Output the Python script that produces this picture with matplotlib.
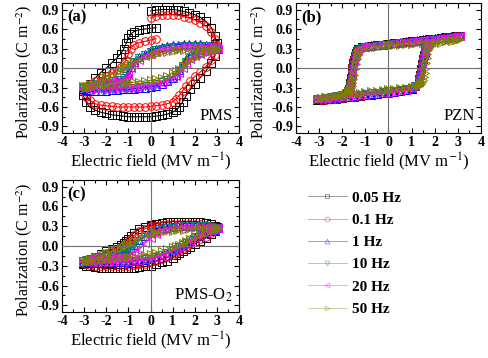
import matplotlib
matplotlib.use('Agg')
import matplotlib.pyplot as plt
from matplotlib.lines import Line2D
from matplotlib.ticker import MultipleLocator, FormatStrFormatter

plt.rcParams['font.family'] = 'serif'
plt.rcParams['font.serif'] = ['Liberation Serif', 'DejaVu Serif']
plt.rcParams['mathtext.fontset'] = 'stix'
plt.rcParams['axes.unicode_minus'] = False

freqs = ['0.05 Hz', '0.1 Hz', '1 Hz', '10 Hz', '20 Hz', '50 Hz']
colors = ['#000000', '#ff0000', '#0000ff', '#008080', '#ff00ff', '#808000']
markers = ['s', 'o', '^', 'v', '<', '>']

# field values of the three sweep segments, PMS and PMS-O2 (MV/m)
E_up = [0, 0.25, 0.5, 0.75, 1.0, 1.25, 1.5, 1.75, 2.0, 2.25, 2.5, 2.75, 2.9, 3.0, 3.05]
E_dn = [3.05, 2.9, 2.75, 2.5, 2.25, 2.0, 1.8, 1.6, 1.45, 1.3, 1.15, 1.0, 0.75, 0.5, 0.25, 0,
        -0.25, -0.5, -0.75, -1.0, -1.25, -1.5, -1.75, -2.0, -2.25, -2.5, -2.75, -2.9, -3.05]
E_rt = [-3.05, -2.9, -2.75, -2.5, -2.25, -2.0, -1.75, -1.5, -1.35, -1.2, -1.1, -1.0, -0.9,
        -0.75, -0.5, -0.25, 0, 0.25]

# PMS polarization (C/m2), one row per frequency
pms_up = [
    [0.88, 0.89, 0.9, 0.9, 0.9, 0.89, 0.87, 0.85, 0.82, 0.78, 0.72, 0.62, 0.5, 0.38, 0.3],
    [0.77, 0.8, 0.81, 0.82, 0.82, 0.81, 0.79, 0.77, 0.74, 0.7, 0.64, 0.55, 0.45, 0.36, 0.3],
    [0.27, 0.3, 0.32, 0.34, 0.35, 0.36, 0.37, 0.37, 0.37, 0.37, 0.36, 0.35, 0.34, 0.33, 0.31],
    [0.24, 0.27, 0.29, 0.31, 0.32, 0.33, 0.34, 0.34, 0.34, 0.34, 0.34, 0.33, 0.32, 0.31, 0.3],
    [0.22, 0.25, 0.27, 0.29, 0.3, 0.31, 0.32, 0.32, 0.33, 0.33, 0.33, 0.32, 0.32, 0.31, 0.3],
    [0.2, 0.22, 0.24, 0.25, 0.26, 0.27, 0.28, 0.28, 0.29, 0.29, 0.3, 0.3, 0.3, 0.3, 0.3],
]
pms_dn = [
    [0.3, 0.18, 0.08, -0.05, -0.15, -0.25, -0.33, -0.43, -0.52, -0.6, -0.65, -0.68, -0.71, -0.73, -0.74,
     -0.75, -0.75, -0.75, -0.75, -0.75, -0.74, -0.73, -0.72, -0.7, -0.68, -0.65, -0.6, -0.53, -0.42],
    [0.3, 0.2, 0.12, 0.02, -0.06, -0.13, -0.2, -0.28, -0.35, -0.42, -0.48, -0.52, -0.55, -0.57, -0.58,
     -0.59, -0.6, -0.6, -0.6, -0.6, -0.6, -0.6, -0.59, -0.58, -0.57, -0.55, -0.5, -0.45, -0.35],
    [0.31, 0.3, 0.29, 0.27, 0.25, 0.23, 0.2, 0.14, 0.06, -0.03, -0.1, -0.15, -0.2, -0.24, -0.27,
     -0.29, -0.3, -0.31, -0.32, -0.33, -0.33, -0.34, -0.34, -0.35, -0.35, -0.35, -0.35, -0.34, -0.33],
    [0.3, 0.28, 0.27, 0.25, 0.22, 0.19, 0.16, 0.1, 0.03, -0.04, -0.1, -0.14, -0.19, -0.22, -0.25,
     -0.27, -0.28, -0.29, -0.3, -0.31, -0.31, -0.32, -0.32, -0.33, -0.33, -0.33, -0.33, -0.32, -0.31],
    [0.3, 0.28, 0.26, 0.24, 0.21, 0.18, 0.14, 0.08, 0.0, -0.07, -0.12, -0.16, -0.2, -0.23, -0.25,
     -0.27, -0.28, -0.29, -0.3, -0.3, -0.31, -0.31, -0.32, -0.32, -0.32, -0.32, -0.32, -0.31, -0.3],
    [0.3, 0.28, 0.26, 0.23, 0.2, 0.16, 0.12, 0.07, 0.03, -0.01, -0.04, -0.07, -0.12, -0.15, -0.17,
     -0.19, -0.2, -0.21, -0.22, -0.22, -0.23, -0.24, -0.25, -0.26, -0.27, -0.28, -0.29, -0.29, -0.28],
]
pms_rt = [
    [-0.35, -0.3, -0.24, -0.15, -0.07, 0.0, 0.08, 0.16, 0.22, 0.3, 0.38, 0.46, 0.52, 0.56, 0.59, 0.6, 0.61, 0.62],
    [-0.3, -0.27, -0.24, -0.2, -0.16, -0.12, -0.08, -0.03, 0.01, 0.07, 0.13, 0.22, 0.3, 0.36, 0.39, 0.41, 0.43, 0.45],
    [-0.33, -0.31, -0.29, -0.27, -0.25, -0.23, -0.21, -0.2, -0.19, -0.18, -0.15, -0.08, 0.02, 0.1, 0.17, 0.22, 0.26, 0.3],
    [-0.31, -0.29, -0.27, -0.25, -0.23, -0.21, -0.2, -0.19, -0.18, -0.16, -0.12, -0.05, 0.03, 0.09, 0.15, 0.2, 0.24, 0.27],
    [-0.3, -0.28, -0.26, -0.24, -0.22, -0.21, -0.2, -0.2, -0.2, -0.2, -0.17, -0.1, 0.0, 0.07, 0.13, 0.18, 0.22, 0.25],
    [-0.28, -0.27, -0.25, -0.22, -0.18, -0.14, -0.1, -0.06, -0.03, 0.0, 0.02, 0.04, 0.06, 0.09, 0.13, 0.17, 0.2, 0.22],
]

# PMS-O2 polarization (C/m2)
pmso2_up = [
    [0.32, 0.34, 0.35, 0.36, 0.37, 0.37, 0.37, 0.37, 0.37, 0.36, 0.35, 0.33, 0.31, 0.29, 0.27],
    [0.3, 0.31, 0.32, 0.33, 0.34, 0.34, 0.34, 0.34, 0.34, 0.33, 0.32, 0.31, 0.29, 0.28, 0.27],
    [0.22, 0.25, 0.27, 0.28, 0.29, 0.3, 0.31, 0.31, 0.31, 0.31, 0.3, 0.3, 0.29, 0.28, 0.27],
    [0.2, 0.23, 0.25, 0.27, 0.28, 0.29, 0.3, 0.3, 0.3, 0.3, 0.3, 0.29, 0.28, 0.28, 0.27],
    [0.18, 0.21, 0.24, 0.26, 0.27, 0.28, 0.29, 0.29, 0.29, 0.29, 0.29, 0.28, 0.28, 0.27, 0.27],
    [0.19, 0.2, 0.21, 0.22, 0.23, 0.24, 0.25, 0.26, 0.27, 0.27, 0.28, 0.28, 0.28, 0.28, 0.27],
]
pmso2_dn = [
    [0.27, 0.22, 0.18, 0.12, 0.08, 0.03, -0.01, -0.05, -0.08, -0.11, -0.14, -0.18, -0.22, -0.25, -0.28,
     -0.3, -0.31, -0.32, -0.33, -0.33, -0.34, -0.34, -0.34, -0.34, -0.33, -0.32, -0.31, -0.3, -0.27],
    [0.27, 0.23, 0.19, 0.14, 0.1, 0.06, 0.03, -0.01, -0.04, -0.07, -0.1, -0.13, -0.17, -0.2, -0.23,
     -0.25, -0.27, -0.28, -0.29, -0.3, -0.3, -0.31, -0.31, -0.31, -0.31, -0.3, -0.29, -0.28, -0.26],
    [0.27, 0.25, 0.23, 0.2, 0.17, 0.14, 0.1, 0.06, 0.03, 0.0, -0.03, -0.06, -0.1, -0.14, -0.17,
     -0.19, -0.21, -0.22, -0.23, -0.24, -0.25, -0.25, -0.26, -0.26, -0.26, -0.26, -0.26, -0.25, -0.24],
    [0.27, 0.25, 0.22, 0.19, 0.16, 0.13, 0.09, 0.05, 0.02, -0.01, -0.04, -0.07, -0.11, -0.14, -0.17,
     -0.19, -0.2, -0.21, -0.22, -0.23, -0.24, -0.24, -0.25, -0.25, -0.25, -0.25, -0.25, -0.24, -0.23],
    [0.27, 0.24, 0.22, 0.19, 0.15, 0.12, 0.08, 0.04, 0.01, -0.02, -0.05, -0.08, -0.12, -0.15, -0.18,
     -0.2, -0.21, -0.22, -0.23, -0.24, -0.24, -0.25, -0.25, -0.25, -0.25, -0.25, -0.24, -0.24, -0.23],
    [0.27, 0.25, 0.22, 0.19, 0.16, 0.13, 0.1, 0.07, 0.04, 0.02, 0.0, -0.02, -0.05, -0.08, -0.1,
     -0.12, -0.13, -0.14, -0.15, -0.16, -0.17, -0.18, -0.19, -0.2, -0.21, -0.22, -0.23, -0.24, -0.24],
]
pmso2_rt = [
    [-0.26, -0.23, -0.2, -0.16, -0.12, -0.08, -0.05, -0.01, 0.02, 0.05, 0.08, 0.11, 0.15, 0.2, 0.26, 0.29, 0.31, 0.33],
    [-0.26, -0.23, -0.21, -0.17, -0.14, -0.1, -0.07, -0.04, -0.02, 0.01, 0.04, 0.07, 0.11, 0.16, 0.22, 0.26, 0.29, 0.31],
    [-0.24, -0.22, -0.2, -0.18, -0.16, -0.15, -0.14, -0.13, -0.12, -0.11, -0.09, -0.06, -0.03, 0.02, 0.09, 0.15, 0.2, 0.23],
    [-0.23, -0.21, -0.19, -0.17, -0.16, -0.15, -0.14, -0.13, -0.12, -0.12, -0.1, -0.07, -0.04, 0.01, 0.08, 0.14, 0.19, 0.22],
    [-0.23, -0.21, -0.19, -0.17, -0.16, -0.16, -0.16, -0.16, -0.16, -0.16, -0.16, -0.15, -0.13, -0.1, -0.05, 0.04, 0.12, 0.18],
    [-0.24, -0.22, -0.2, -0.17, -0.14, -0.11, -0.08, -0.05, -0.03, -0.01, 0.01, 0.03, 0.05, 0.08, 0.12, 0.16, 0.19, 0.2],
]

# PZN: field of the falling and rising branches (MV/m)
Eb_hi = [3.1, 2.9, 2.7, 2.5, 2.25, 2.0, 1.75, 1.5, 1.25, 1.0, 0.75, 0.5, 0.25, 0.0, -0.25, -0.5,
         -0.75, -1.0, -1.15, -1.3, -1.34, -1.38, -1.42, -1.46, -1.5, -1.53, -1.56, -1.59, -1.62,
         -1.65, -1.68, -1.71, -1.75, -1.85, -2.0, -2.25, -2.5, -2.75, -2.9, -3.1]
Eb_lo = [-3.1, -2.9, -2.7, -2.5, -2.25, -2.0, -1.75, -1.5, -1.25, -1.0, -0.75, -0.5, -0.25, 0.0,
         0.25, 0.5, 0.75, 1.0, 1.15, 1.3, 1.34, 1.38, 1.42, 1.46, 1.5, 1.53, 1.56, 1.59, 1.62,
         1.65, 1.68, 1.71, 1.75, 1.85, 2.0, 2.25, 2.5, 2.75, 2.9, 3.1]
pzn_hi = [
    [0.49, 0.49, 0.48, 0.47, 0.46, 0.45, 0.44, 0.43, 0.42, 0.41, 0.40, 0.39, 0.38, 0.37, 0.36, 0.35,
     0.34, 0.33, 0.32, 0.3, 0.28, 0.26, 0.23, 0.19, 0.13, 0.07, 0.0, -0.08, -0.16, -0.23,
     -0.29, -0.33, -0.36, -0.4, -0.42, -0.44, -0.46, -0.47, -0.48, -0.49],
    [0.50, 0.49, 0.48, 0.47, 0.46, 0.45, 0.44, 0.43, 0.42, 0.41, 0.40, 0.39, 0.38, 0.37, 0.36, 0.35,
     0.34, 0.33, 0.32, 0.3, 0.29, 0.27, 0.25, 0.21, 0.16, 0.1, 0.03, -0.05, -0.13, -0.21,
     -0.28, -0.33, -0.36, -0.4, -0.42, -0.44, -0.46, -0.47, -0.48, -0.48],
    [0.50, 0.50, 0.49, 0.48, 0.47, 0.46, 0.45, 0.44, 0.43, 0.42, 0.41, 0.40, 0.39, 0.38, 0.37, 0.36,
     0.35, 0.34, 0.32, 0.3, 0.29, 0.27, 0.24, 0.2, 0.15, 0.09, 0.02, -0.06, -0.14, -0.22,
     -0.28, -0.33, -0.36, -0.4, -0.42, -0.44, -0.46, -0.47, -0.48, -0.48],
    [0.47, 0.46, 0.46, 0.45, 0.44, 0.43, 0.42, 0.41, 0.40, 0.39, 0.39, 0.38, 0.37, 0.36, 0.35, 0.34,
     0.33, 0.32, 0.31, 0.28, 0.26, 0.23, 0.18, 0.12, 0.05, -0.02, -0.1, -0.17, -0.23, -0.28,
     -0.31, -0.34, -0.36, -0.39, -0.41, -0.43, -0.45, -0.46, -0.47, -0.47],
    [0.49, 0.48, 0.47, 0.46, 0.45, 0.44, 0.44, 0.43, 0.42, 0.41, 0.40, 0.39, 0.38, 0.37, 0.36, 0.35,
     0.34, 0.33, 0.32, 0.3, 0.28, 0.26, 0.22, 0.17, 0.11, 0.04, -0.04, -0.12, -0.2, -0.26,
     -0.3, -0.34, -0.36, -0.4, -0.42, -0.44, -0.45, -0.46, -0.47, -0.48],
    [0.44, 0.43, 0.43, 0.42, 0.41, 0.40, 0.39, 0.39, 0.38, 0.37, 0.37, 0.36, 0.36, 0.35, 0.34, 0.33,
     0.32, 0.3, 0.28, 0.24, 0.2, 0.14, 0.06, -0.02, -0.1, -0.17, -0.23, -0.28, -0.31, -0.33,
     -0.35, -0.36, -0.37, -0.39, -0.41, -0.43, -0.44, -0.45, -0.46, -0.47],
]
pzn_lo = [
    [-0.49, -0.49, -0.48, -0.48, -0.47, -0.46, -0.45, -0.44, -0.43, -0.42, -0.41, -0.40, -0.39, -0.38,
     -0.37, -0.36, -0.34, -0.32, -0.28, -0.22, -0.17, -0.1, -0.02, 0.06, 0.14, 0.2, 0.25, 0.3,
     0.33, 0.35, 0.37, 0.38, 0.40, 0.42, 0.44, 0.46, 0.47, 0.48, 0.49, 0.49],
    [-0.48, -0.49, -0.49, -0.48, -0.47, -0.46, -0.45, -0.44, -0.43, -0.42, -0.41, -0.40, -0.39, -0.38,
     -0.37, -0.36, -0.34, -0.31, -0.27, -0.2, -0.15, -0.08, 0.0, 0.08, 0.16, 0.22, 0.27, 0.31,
     0.34, 0.36, 0.38, 0.39, 0.41, 0.43, 0.45, 0.46, 0.47, 0.48, 0.49, 0.50],
    [-0.48, -0.48, -0.48, -0.47, -0.46, -0.45, -0.44, -0.43, -0.42, -0.41, -0.40, -0.40, -0.39, -0.38,
     -0.37, -0.36, -0.34, -0.31, -0.27, -0.21, -0.16, -0.09, -0.01, 0.07, 0.15, 0.21, 0.26, 0.3,
     0.33, 0.36, 0.38, 0.39, 0.41, 0.43, 0.45, 0.46, 0.47, 0.48, 0.49, 0.50],
    [-0.47, -0.47, -0.47, -0.46, -0.45, -0.44, -0.43, -0.42, -0.41, -0.40, -0.39, -0.38, -0.37, -0.36,
     -0.35, -0.34, -0.32, -0.3, -0.27, -0.23, -0.19, -0.14, -0.07, 0.01, 0.09, 0.16, 0.22, 0.27,
     0.31, 0.34, 0.36, 0.37, 0.39, 0.41, 0.43, 0.44, 0.45, 0.46, 0.47, 0.47],
    [-0.48, -0.48, -0.48, -0.47, -0.46, -0.45, -0.44, -0.43, -0.42, -0.41, -0.40, -0.39, -0.39, -0.38,
     -0.37, -0.36, -0.34, -0.31, -0.27, -0.21, -0.16, -0.09, -0.01, 0.07, 0.15, 0.21, 0.26, 0.3,
     0.33, 0.35, 0.37, 0.38, 0.40, 0.42, 0.44, 0.45, 0.46, 0.47, 0.48, 0.49],
    [-0.47, -0.46, -0.45, -0.44, -0.43, -0.42, -0.41, -0.40, -0.38, -0.37, -0.36, -0.35, -0.34, -0.33,
     -0.32, -0.31, -0.3, -0.29, -0.28, -0.27, -0.26, -0.25, -0.24, -0.22, -0.19, -0.14, -0.08, -0.01,
     0.07, 0.15, 0.22, 0.27, 0.31, 0.35, 0.37, 0.39, 0.41, 0.42, 0.43, 0.44],
]


def draw(ax, x, y, i):
    ax.plot(x, y, color=colors[i], lw=0.8, marker=markers[i], ms=5.5, mfc='none',
            mec=colors[i], mew=0.7, zorder=2 + i * 0.1)


def style(ax, tag, name, ylab_x):
    ax.set_xlim(-4, 4)
    ax.set_ylim(-1, 1)
    ax.xaxis.set_major_locator(MultipleLocator(1))
    ax.xaxis.set_minor_locator(MultipleLocator(0.5))
    ax.yaxis.set_major_locator(MultipleLocator(0.3))
    ax.yaxis.set_minor_locator(MultipleLocator(0.15))
    ax.yaxis.set_major_formatter(FormatStrFormatter('%.1f'))
    ax.tick_params(which='both', direction='in', top=True, right=True, width=0.8)
    ax.tick_params(which='major', length=3.5, labelsize=10, pad=2)
    ax.tick_params(which='minor', length=2)
    for lbl in ax.get_xticklabels() + ax.get_yticklabels():
        lbl.set_fontweight('bold')
    ax.axhline(0, color='#707070', lw=0.8, zorder=5)
    ax.axvline(0, color='#707070', lw=0.8, zorder=5)
    ax.set_xlabel('Electric field (MV m$^{-1}$)', fontsize=12, labelpad=1)
    ax.set_ylabel('Polarization (C m$^{-2}$)', fontsize=11.5)
    ax.yaxis.set_label_coords(ylab_x, 0.475)
    ax.text(0.03, 0.95, tag, transform=ax.transAxes, fontsize=12, fontweight='bold',
            ha='left', va='top')
    ax.text(0.965, 0.13, name, transform=ax.transAxes, fontsize=12, ha='right', va='center')


fig = plt.figure(figsize=(4.89, 3.58), dpi=100)
ax_a = fig.add_axes([0.1268, 0.6285, 0.3620, 0.3631])
ax_b = fig.add_axes([0.6053, 0.6285, 0.3783, 0.3631])
ax_c = fig.add_axes([0.1268, 0.1285, 0.3620, 0.3687])

for i in range(6):
    draw(ax_a, E_up + E_dn + E_rt, pms_up[i] + pms_dn[i] + pms_rt[i], i)
    draw(ax_b, Eb_hi + Eb_lo, pzn_hi[i] + pzn_lo[i], i)
    draw(ax_c, E_up + E_dn + E_rt, pmso2_up[i] + pmso2_dn[i] + pmso2_rt[i], i)

style(ax_a, '(a)', 'PMS', -0.16)
style(ax_b, '(b)', 'PZN', -0.145)
style(ax_c, '(c)', 'PMS-O$_2$', -0.16)

handles = [Line2D([], [], color=colors[i], lw=0.6, marker=markers[i], ms=3.5,
                  mfc='none', mec=colors[i], mew=0.6, alpha=0.45) for i in range(6)]
leg = fig.legend(handles, freqs, loc='upper left', bbox_to_anchor=(0.629, 0.4665),
                 frameon=False, handlelength=2.6, handletextpad=0.3, labelspacing=0.56,
                 borderpad=0, borderaxespad=0, prop={'size': 11, 'weight': 'bold'})

fig.savefig('out.png', dpi=100)
